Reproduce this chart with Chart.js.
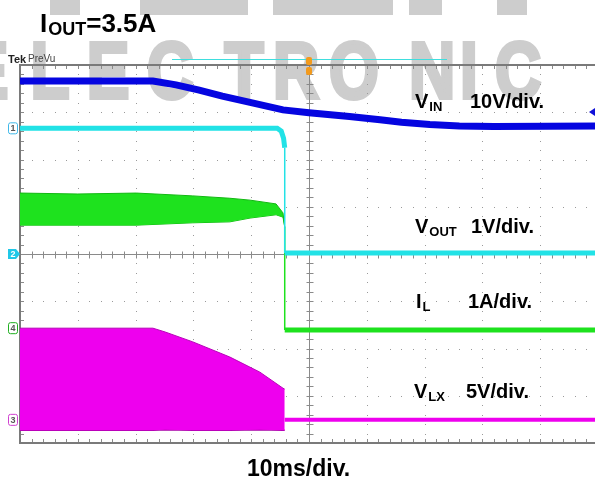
<!DOCTYPE html>
<html>
<head>
<meta charset="utf-8">
<script src="https://cdn.jsdelivr.net/npm/chart.js@4.4.1/dist/chart.umd.min.js"></script>
<style>
  html, body { margin: 0; padding: 0; background: #fff; overflow: hidden; width: 595px; height: 481px; }
  #wrap { position: relative; width: 610px; height: 481px; }
</style>
</head>
<body>
<div id="wrap"><canvas id="chart" width="610" height="481"></canvas></div>
<script>
// time in ms (10 ms/div, 0 = left edge of screen), level in screen divisions (0 = bottom, 8 = top)
const vinTime = [0, 23, 27, 31, 35, 39.8, 45.5, 50, 57, 62.3, 66, 70.9, 76, 82, 100];
const vinDiv  = [7.66, 7.66, 7.58, 7.47, 7.34, 7.21, 7.05, 6.99, 6.91, 6.84, 6.79, 6.74, 6.71, 6.70, 6.71];

const voutTime = [0, 44.5, 45.2, 45.6, 45.8, 45.8, 100];
const voutDiv  = [6.66, 6.66, 6.60, 6.45, 6.25, 4.02, 4.02];

const ilTime   = [0, 10, 20.1, 29.9, 36.3, 39.8, 44.3, 45.5, 45.8];
const ilTop    = [5.29, 5.27, 5.29, 5.23, 5.18, 5.14, 5.06, 4.87, 4.57];
const ilBottom = [4.61, 4.61, 4.61, 4.66, 4.68, 4.76, 4.83, 4.78, 4.57];
const ilOffTime = [45.8, 45.8, 100];
const ilOffDiv  = [4.57, 2.39, 2.39];

const vlxTime   = [0, 23, 25.1, 29.9, 36.3, 41.5, 45.5, 45.8];
const vlxTop    = [2.43, 2.43, 2.35, 2.14, 1.82, 1.50, 1.16, 1.14];
const vlxBottom = [0.27, 0.27, 0.28, 0.27, 0.27, 0.28, 0.27, 0.27];
const vlxOffTime = [45.8, 100];
const vlxOffDiv  = [0.49, 0.49];

const FONT = '"Liberation Sans", Arial, sans-serif';

const trace = (xs, ys, color, width, extra) => Object.assign({
  data: xs.map((x, i) => ({ x, y: ys[i] })),
  borderColor: color,
  borderWidth: width,
  pointRadius: 0,
  tension: 0,
  fill: false,
  borderCapStyle: 'butt',
  // the fast edges are thin on the scope
  segment: { borderWidth: ctx => ctx.p0.parsed.x === ctx.p1.parsed.x ? 1.5 : undefined }
}, extra);

// gray watermark behind everything
const watermark = {
  id: 'watermark',
  beforeDraw(chart) {
    const ctx = chart.ctx;
    ctx.save();
    ctx.fillStyle = '#cdcdcd';
    ctx.strokeStyle = '#cdcdcd';
    ctx.lineWidth = 4;
    ctx.lineJoin = 'miter';
    [[50, 80], [140, 248], [273, 393], [409, 442], [497, 527]].forEach(([a, b]) => ctx.fillRect(a, 0, b - a, 15));
    ctx.font = 'bold 80px ' + FONT;
    ctx.textAlign = 'center';
    const letters = [['E', -13], ['L', 50], ['E', 108], ['C', 170], ['T', 244], ['R', 296], ['O', 354], ['N', 432], ['I', 469], ['C', 518]];
    letters.forEach(([ch, cx]) => {
      ctx.save();
      ctx.translate(cx, 98);
      ctx.scale(0.8, 1);
      ctx.fillText(ch, 0, 0);
      ctx.strokeText(ch, 0, 0);
      ctx.restore();
    });
    ctx.restore();
  }
};

// scope graticule
const graticule = {
  id: 'graticule',
  beforeDatasetsDraw(chart) {
    const { ctx, chartArea: a, scales: { x, y } } = chart;
    ctx.save();
    ctx.fillStyle = '#9a9a9a';
    for (let t = 10; t < 100; t += 10) {
      if (t === 50) continue;
      const px = Math.round(x.getPixelForValue(t));
      for (let k = 0; k <= 40; k++) ctx.fillRect(px, Math.round(y.getPixelForValue(k / 5)), 1, 1);
    }
    for (let d = 1; d < 8; d++) {
      if (d === 4) continue;
      const py = Math.round(y.getPixelForValue(d));
      for (let k = 0; k <= 50; k++) ctx.fillRect(Math.round(x.getPixelForValue(k * 2)), py, 1, 1);
    }
    // centre cross with minor ticks
    const cx = Math.round(x.getPixelForValue(50)) + 0.5;
    const cy = Math.round(y.getPixelForValue(4)) + 0.5;
    ctx.strokeStyle = '#8a8a8a';
    ctx.lineWidth = 1;
    ctx.beginPath();
    ctx.moveTo(cx, a.top); ctx.lineTo(cx, a.bottom);
    ctx.moveTo(a.left, cy); ctx.lineTo(a.right, cy);
    for (let k = 0; k <= 40; k++) {
      const py = Math.round(y.getPixelForValue(k / 5)) + 0.5;
      ctx.moveTo(cx - 3, py); ctx.lineTo(cx + 4, py);
      ctx.moveTo(a.left, py); ctx.lineTo(a.left + 4, py);
    }
    for (let k = 0; k <= 50; k++) {
      const px = Math.round(x.getPixelForValue(k * 2)) + 0.5;
      ctx.moveTo(px, cy - 3); ctx.lineTo(px, cy + 4);
      ctx.moveTo(px, a.top); ctx.lineTo(px, a.top + 4);
      ctx.moveTo(px, a.bottom); ctx.lineTo(px, a.bottom - 4);
    }
    ctx.stroke();
    ctx.strokeStyle = '#7a7a7a';
    ctx.lineWidth = 2;
    ctx.strokeRect(a.left, a.top, a.right - a.left, a.bottom - a.top);
    ctx.restore();
  }
};

function subLabel(ctx, x, y, main, sub, size, subSize) {
  ctx.font = 'bold ' + size + 'px ' + FONT;
  ctx.fillText(main, x, y);
  const w = ctx.measureText(main).width;
  ctx.font = 'bold ' + subSize + 'px ' + FONT;
  ctx.fillText(sub, x + w + 1, y + 3);
  return x + w + 1 + ctx.measureText(sub).width;
}

function chMarker(ctx, py, n, color, filled) {
  ctx.save();
  ctx.lineWidth = 1;
  ctx.strokeStyle = color;
  ctx.fillStyle = color;
  ctx.beginPath();
  if (filled) {
    ctx.moveTo(8, py - 5); ctx.lineTo(16, py - 5); ctx.lineTo(20, py); ctx.lineTo(16, py + 5); ctx.lineTo(8, py + 5);
    ctx.closePath();
    ctx.fill();
    ctx.fillStyle = '#fff';
  } else {
    ctx.roundRect(8.5, py - 5.5, 9, 11, 2);
    ctx.stroke();
    ctx.fillStyle = '#555';
  }
  ctx.font = 'bold 9px ' + FONT;
  ctx.textAlign = 'center';
  ctx.textBaseline = 'middle';
  ctx.fillText(n, 13, py + 0.5);
  ctx.restore();
}

const scopeText = {
  id: 'scopeText',
  afterDraw(chart) {
    const { ctx, scales: { x, y } } = chart;
    ctx.save();
    ctx.fillStyle = '#000';
    ctx.textBaseline = 'alphabetic';

    // title
    const end = subLabel(ctx, 40, 32, 'I', 'OUT', 26, 18);
    ctx.font = 'bold 26px ' + FONT;
    ctx.fillText('=3.5A', end, 32);

    // Tek header
    ctx.fillStyle = '#222';
    ctx.font = 'bold 11px ' + FONT;
    ctx.fillText('Tek', 8, 63);
    ctx.fillStyle = '#444';
    ctx.font = '10px ' + FONT;
    ctx.fillText('PreVu', 28, 62);

    // trigger level line and markers
    ctx.strokeStyle = '#3fdede';
    ctx.lineWidth = 1;
    ctx.beginPath();
    ctx.moveTo(172, 59.5); ctx.lineTo(447, 59.5);
    ctx.stroke();
    const tx = x.getPixelForValue(50);
    ctx.fillStyle = '#f39a1c';
    ctx.beginPath(); ctx.roundRect(tx - 3, 57, 6, 8, 2); ctx.fill();
    ctx.beginPath(); ctx.roundRect(tx - 3, 67, 6, 8, 2); ctx.fill();
    ctx.fillStyle = '#1010d8';
    ctx.beginPath();
    ctx.moveTo(589, 112); ctx.lineTo(595, 108); ctx.lineTo(595, 116); ctx.closePath();
    ctx.fill();

    // channel ground markers
    chMarker(ctx, y.getPixelForValue(6.66), '1', '#3fb8e8', false);
    chMarker(ctx, y.getPixelForValue(4), '2', '#20c8e8', true);
    chMarker(ctx, y.getPixelForValue(2.43), '4', '#20b020', false);
    chMarker(ctx, y.getPixelForValue(0.49), '3', '#d040d0', false);

    // trace labels
    ctx.fillStyle = '#000';
    subLabel(ctx, 415, 108, 'V', 'IN', 20, 13);
    ctx.font = 'bold 20px ' + FONT;
    ctx.fillText('10V/div.', 470, 108);

    subLabel(ctx, 415, 233, 'V', 'OUT', 20, 13);
    ctx.font = 'bold 20px ' + FONT;
    ctx.fillText('1V/div.', 471, 233);

    subLabel(ctx, 416, 308, 'I', 'L', 20, 13);
    ctx.font = 'bold 20px ' + FONT;
    ctx.fillText('1A/div.', 468, 308);

    subLabel(ctx, 414, 398, 'V', 'LX', 20, 13);
    ctx.font = 'bold 20px ' + FONT;
    ctx.fillText('5V/div.', 466, 398);

    ctx.font = 'bold 23px ' + FONT;
    ctx.fillText('10ms/div.', 247, 476);
    ctx.restore();
  }
};

const GREEN = '#1ee21e';
const MAGENTA = '#ee00ee';

new Chart(document.getElementById('chart'), {
  type: 'line',
  data: {
    datasets: [
      trace(vinTime, vinDiv, '#0505e0', 7),
      trace(voutTime, voutDiv, '#22e2e6', 5),
      trace(ilTime, ilTop, '#12b812', 1, { fill: '+1', backgroundColor: GREEN }),
      trace(ilTime, ilBottom, '#12b812', 1),
      trace(ilOffTime, ilOffDiv, GREEN, 5),
      trace(vlxTime, vlxTop, '#b800b8', 1, { fill: '+1', backgroundColor: MAGENTA }),
      trace(vlxTime, vlxBottom, '#a800a8', 1.5),
      trace(vlxOffTime, vlxOffDiv, MAGENTA, 4)
    ]
  },
  options: {
    responsive: false,
    devicePixelRatio: 1,
    animation: false,
    layout: { padding: { left: 20, top: 65, right: 12, bottom: 38 } },
    plugins: {
      legend: { display: false },
      tooltip: { enabled: false }
    },
    scales: {
      x: { type: 'linear', min: 0, max: 100, display: false },
      y: { type: 'linear', min: 0, max: 8, display: false }
    }
  },
  plugins: [watermark, graticule, scopeText]
});
</script>
</body>
</html>
